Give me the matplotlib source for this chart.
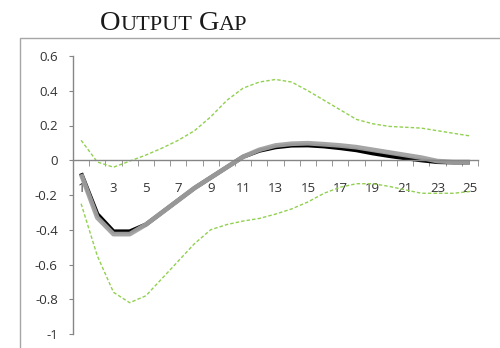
import matplotlib
matplotlib.use("Agg")
import matplotlib.pyplot as plt
from matplotlib.patches import Rectangle
import numpy as np

periods = list(range(1, 26))
median = [-0.075, -0.31, -0.41, -0.41, -0.37, -0.30, -0.23, -0.16, -0.10, -0.04,
          0.02, 0.055, 0.075, 0.085, 0.086, 0.08, 0.07, 0.058, 0.04, 0.025,
          0.012, 0.0, -0.01, -0.012, -0.012]
mean = [-0.08, -0.33, -0.425, -0.425, -0.37, -0.30, -0.23, -0.16, -0.10, -0.04,
        0.02, 0.06, 0.085, 0.095, 0.098, 0.092, 0.085, 0.075, 0.06, 0.045,
        0.03, 0.015, -0.005, -0.01, -0.01]
upper = [0.115, -0.01, -0.04, -0.005, 0.03, 0.07, 0.115, 0.17, 0.25, 0.345,
         0.415, 0.45, 0.465, 0.45, 0.40, 0.345, 0.29, 0.235, 0.21, 0.195,
         0.19, 0.185, 0.17, 0.155, 0.14]
lower = [-0.25, -0.55, -0.76, -0.82, -0.78, -0.68, -0.58, -0.48, -0.40, -0.37,
         -0.35, -0.335, -0.31, -0.28, -0.24, -0.19, -0.155, -0.135, -0.135, -0.15,
         -0.17, -0.19, -0.19, -0.19, -0.18]
yticks = [0.6, 0.4, 0.2, 0, -0.2, -0.4, -0.6, -0.8, -1]
ylabels = ["0.6", "0.4", "0.2", "0", "-0.2", "-0.4", "-0.6", "-0.8", "-1"]

W, H = 500, 348
fig = plt.figure(figsize=(5, 3.48), dpi=100)

# outer chart frame (cut off on right and bottom)
fig.patches.append(Rectangle((20 / W, -0.1), 1.2, (H - 38) / H + 0.1,
                             transform=fig.transFigure, fill=False,
                             edgecolor="#a6a6a6", lw=1.0))

ax = fig.add_axes([73 / W, 1 - 334 / H, 405 / W, (334 - 56) / H])
ax.plot(periods, upper, color="#92d050", lw=1.0, ls=(0, (2.5, 1.5)))
ax.plot(periods, lower, color="#92d050", lw=1.0, ls=(0, (2.5, 1.5)))
ax.plot(periods, median, color="black", lw=3.0, solid_capstyle="butt")
ax.plot(periods, mean, color="#a0a0a0", lw=3.4, alpha=0.95, solid_capstyle="butt")

ax.set_xlim(0.5, 25.5)
ax.set_ylim(-1, 0.6)
for s in ["top", "right"]:
    ax.spines[s].set_visible(False)
ax.spines["bottom"].set_position(("data", 0))
for s in ["left", "bottom"]:
    ax.spines[s].set_color("#868686")
    ax.spines[s].set_linewidth(1.0)

ax.set_xticks(periods[::2])
ax.set_xticklabels([str(p) for p in periods[::2]])
ax.set_xticks(np.arange(0.5, 26, 1), minor=True)
ax.tick_params(axis="x", which="major", length=0, pad=16, labelsize=9.5,
               labelcolor="#333333")
ax.tick_params(axis="x", which="minor", length=4, direction="out",
               color="#868686")
ax.set_yticks(yticks)
ax.set_yticklabels(ylabels)
ax.tick_params(axis="y", length=3, direction="out", color="#868686",
               pad=8, labelsize=9.5, labelcolor="#333333")
for lab in ax.get_xticklabels() + ax.get_yticklabels():
    lab.set_family("Open Sans")

# small-caps title
fig.canvas.draw()
renderer = fig.canvas.get_renderer()
x = 100
parts = [("O", 20.5), ("UTPUT", 16), (" ", 16), ("G", 20.5), ("AP", 16)]
for txt, size in parts:
    if txt == " ":
        x += 6
        continue
    t = fig.text(x / W, 1 - 30 / H, txt, fontsize=size, family="Liberation Serif",
                 color="#1a1a1a", ha="left", va="baseline")
    bb = t.get_window_extent(renderer)
    x += bb.width

fig.savefig("out.png", dpi=100)
